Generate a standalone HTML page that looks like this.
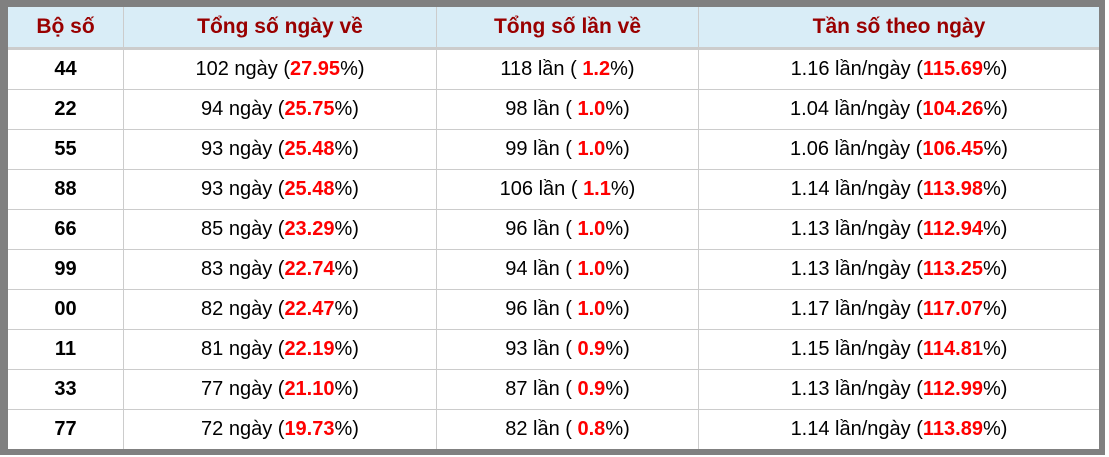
<!DOCTYPE html>
<html><head><meta charset="utf-8">
<style>
html,body{margin:0;padding:0;background:#fff;width:1109px;height:457px;overflow:hidden;}
body{position:relative;font-family:"Liberation Sans",Arial,sans-serif;}
.frame{position:absolute;left:0;top:0;width:1105px;height:455px;background:#808080;}
.tbl{position:absolute;left:8px;top:7px;width:1091px;height:442px;background:#fff;}
.hdr{position:absolute;left:0;top:0;width:1091px;height:40px;background:#d9edf7;}
.hline{position:absolute;left:0;top:40px;width:1091px;height:3px;background:#cccccc;}
.vl{position:absolute;top:0;width:1px;height:442px;background:#cccccc;}
.rl{position:absolute;left:0;width:1091px;height:1px;background:#cccccc;}
.c{position:absolute;display:flex;align-items:center;justify-content:center;white-space:pre;color:#000;font-size:20px;}
.h{color:#990000;font-weight:bold;font-size:21px;}
.b{font-weight:bold;}
.r{color:#ff0000;font-weight:bold;}
</style></head><body>
<div class="frame"></div>
<div class="tbl">
<div class="hdr"></div>
<div class="hline"></div>
<div class="vl" style="left:115px"></div>
<div class="vl" style="left:428px"></div>
<div class="vl" style="left:690px"></div>
<div class="rl" style="top:82px"></div>
<div class="rl" style="top:122px"></div>
<div class="rl" style="top:162px"></div>
<div class="rl" style="top:202px"></div>
<div class="rl" style="top:242px"></div>
<div class="rl" style="top:282px"></div>
<div class="rl" style="top:322px"></div>
<div class="rl" style="top:362px"></div>
<div class="rl" style="top:402px"></div>

<div class="c h" style="left:0;top:0;width:115px;height:40px">Bộ số</div>
<div class="c h" style="left:116px;top:0;width:312px;height:40px">Tổng số ngày về</div>
<div class="c h" style="left:429px;top:0;width:261px;height:40px">Tổng số lần về</div>
<div class="c h" style="left:691px;top:0;width:400px;height:40px">Tần số theo ngày</div>

<div style="position:absolute;left:0;top:43px;width:1091px;">
<div style="position:relative;height:40px">
<div class="c b" style="left:0;top:0;width:115px;height:39px">44</div>
<div class="c" style="left:116px;top:0;width:312px;height:39px">102 ngày (<span class="r">27.95</span>%)</div>
<div class="c" style="left:429px;top:0;width:261px;height:39px">118 lần ( <span class="r">1.2</span>%)</div>
<div class="c" style="left:691px;top:0;width:400px;height:39px">1.16 lần/ngày (<span class="r">115.69</span>%)</div>
</div>
<div style="position:relative;height:40px">
<div class="c b" style="left:0;top:0;width:115px;height:39px">22</div>
<div class="c" style="left:116px;top:0;width:312px;height:39px">94 ngày (<span class="r">25.75</span>%)</div>
<div class="c" style="left:429px;top:0;width:261px;height:39px">98 lần ( <span class="r">1.0</span>%)</div>
<div class="c" style="left:691px;top:0;width:400px;height:39px">1.04 lần/ngày (<span class="r">104.26</span>%)</div>
</div>
<div style="position:relative;height:40px">
<div class="c b" style="left:0;top:0;width:115px;height:39px">55</div>
<div class="c" style="left:116px;top:0;width:312px;height:39px">93 ngày (<span class="r">25.48</span>%)</div>
<div class="c" style="left:429px;top:0;width:261px;height:39px">99 lần ( <span class="r">1.0</span>%)</div>
<div class="c" style="left:691px;top:0;width:400px;height:39px">1.06 lần/ngày (<span class="r">106.45</span>%)</div>
</div>
<div style="position:relative;height:40px">
<div class="c b" style="left:0;top:0;width:115px;height:39px">88</div>
<div class="c" style="left:116px;top:0;width:312px;height:39px">93 ngày (<span class="r">25.48</span>%)</div>
<div class="c" style="left:429px;top:0;width:261px;height:39px">106 lần ( <span class="r">1.1</span>%)</div>
<div class="c" style="left:691px;top:0;width:400px;height:39px">1.14 lần/ngày (<span class="r">113.98</span>%)</div>
</div>
<div style="position:relative;height:40px">
<div class="c b" style="left:0;top:0;width:115px;height:39px">66</div>
<div class="c" style="left:116px;top:0;width:312px;height:39px">85 ngày (<span class="r">23.29</span>%)</div>
<div class="c" style="left:429px;top:0;width:261px;height:39px">96 lần ( <span class="r">1.0</span>%)</div>
<div class="c" style="left:691px;top:0;width:400px;height:39px">1.13 lần/ngày (<span class="r">112.94</span>%)</div>
</div>
<div style="position:relative;height:40px">
<div class="c b" style="left:0;top:0;width:115px;height:39px">99</div>
<div class="c" style="left:116px;top:0;width:312px;height:39px">83 ngày (<span class="r">22.74</span>%)</div>
<div class="c" style="left:429px;top:0;width:261px;height:39px">94 lần ( <span class="r">1.0</span>%)</div>
<div class="c" style="left:691px;top:0;width:400px;height:39px">1.13 lần/ngày (<span class="r">113.25</span>%)</div>
</div>
<div style="position:relative;height:40px">
<div class="c b" style="left:0;top:0;width:115px;height:39px">00</div>
<div class="c" style="left:116px;top:0;width:312px;height:39px">82 ngày (<span class="r">22.47</span>%)</div>
<div class="c" style="left:429px;top:0;width:261px;height:39px">96 lần ( <span class="r">1.0</span>%)</div>
<div class="c" style="left:691px;top:0;width:400px;height:39px">1.17 lần/ngày (<span class="r">117.07</span>%)</div>
</div>
<div style="position:relative;height:40px">
<div class="c b" style="left:0;top:0;width:115px;height:39px">11</div>
<div class="c" style="left:116px;top:0;width:312px;height:39px">81 ngày (<span class="r">22.19</span>%)</div>
<div class="c" style="left:429px;top:0;width:261px;height:39px">93 lần ( <span class="r">0.9</span>%)</div>
<div class="c" style="left:691px;top:0;width:400px;height:39px">1.15 lần/ngày (<span class="r">114.81</span>%)</div>
</div>
<div style="position:relative;height:40px">
<div class="c b" style="left:0;top:0;width:115px;height:39px">33</div>
<div class="c" style="left:116px;top:0;width:312px;height:39px">77 ngày (<span class="r">21.10</span>%)</div>
<div class="c" style="left:429px;top:0;width:261px;height:39px">87 lần ( <span class="r">0.9</span>%)</div>
<div class="c" style="left:691px;top:0;width:400px;height:39px">1.13 lần/ngày (<span class="r">112.99</span>%)</div>
</div>
<div style="position:relative;height:40px">
<div class="c b" style="left:0;top:0;width:115px;height:39px">77</div>
<div class="c" style="left:116px;top:0;width:312px;height:39px">72 ngày (<span class="r">19.73</span>%)</div>
<div class="c" style="left:429px;top:0;width:261px;height:39px">82 lần ( <span class="r">0.8</span>%)</div>
<div class="c" style="left:691px;top:0;width:400px;height:39px">1.14 lần/ngày (<span class="r">113.89</span>%)</div>
</div>
</div>
</div>
</body></html>
